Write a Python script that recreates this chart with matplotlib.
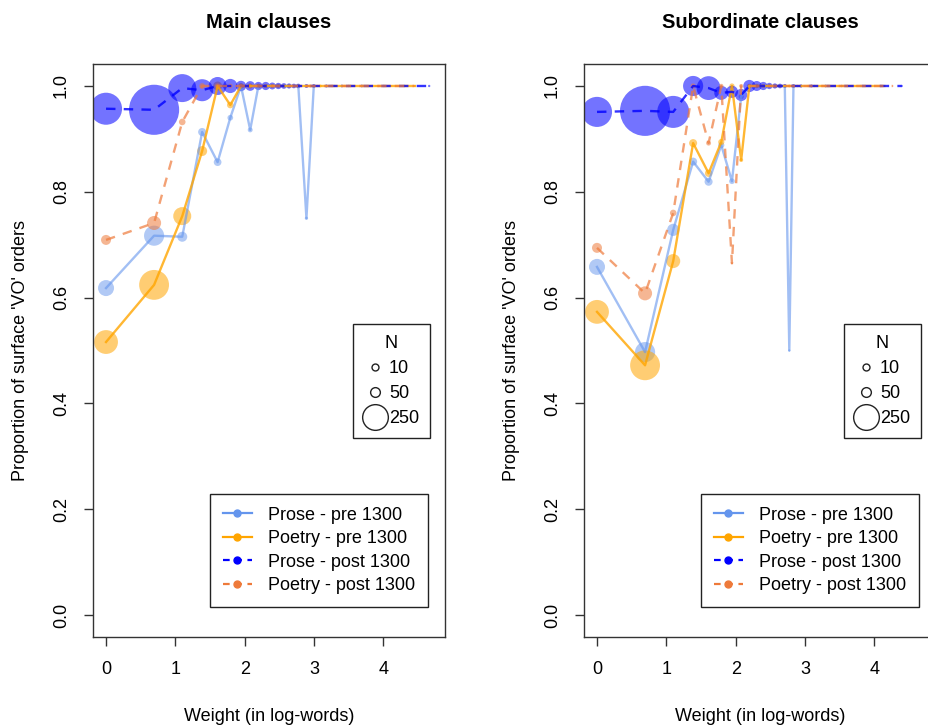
import numpy as np
import matplotlib
matplotlib.use("Agg")
import matplotlib.pyplot as plt
from matplotlib.lines import Line2D

plt.rcParams['font.family'] = ['Liberation Sans', 'DejaVu Sans']

# weight values are log(number of words)
# ---- Main clauses ----
main_prose_pre_x = [0, 0.693, 1.099, 1.386, 1.609, 1.792, 1.946, 2.079, 2.197, 2.303, 2.398, 2.485, 2.565, 2.639, 2.773, 2.890, 2.996]
main_prose_pre_y = [0.618, 0.717, 0.715, 0.913, 0.856, 0.940, 1.0, 0.917, 1.0, 1.0, 1.0, 1.0, 1.0, 1.0, 1.0, 0.75, 1.0]
main_prose_pre_n = [95, 150, 37, 24, 22, 12, 10, 9, 7, 6, 5, 5, 4, 4, 3, 4, 3]

main_poetry_pre_x = [0, 0.693, 1.099, 1.386, 1.609, 1.792, 1.946, 2.079, 2.197, 2.303, 2.398, 2.485, 2.639, 2.773, 2.944, 3.091, 3.296, 3.497, 3.714, 3.932, 4.174, 4.454]
main_poetry_pre_y = [0.516, 0.624, 0.754, 0.877, 1.0, 0.964, 1.0, 1.0, 1.0, 1.0, 1.0, 1.0, 1.0, 1.0, 1.0, 1.0, 1.0, 1.0, 1.0, 1.0, 1.0, 1.0]
main_poetry_pre_n = [210, 330, 120, 37, 30, 16, 12, 10, 8, 7, 6, 5, 4, 4, 3, 3, 2, 2, 2, 2, 1, 1]

main_prose_post_x = [0, 0.693, 1.099, 1.386, 1.609, 1.792, 1.946, 2.079, 2.197, 2.303, 2.398, 2.485, 2.565, 2.639, 2.708, 2.773, 2.890, 2.996, 3.178, 3.401, 3.689, 4.007, 4.304, 4.660]
main_prose_post_y = [0.957, 0.955, 0.996, 0.992, 1.0, 1.0, 1.0, 1.0, 1.0, 1.0, 1.0, 1.0, 1.0, 1.0, 1.0, 1.0, 1.0, 1.0, 1.0, 1.0, 1.0, 1.0, 1.0, 1.0]
main_prose_post_n = [380, 930, 290, 180, 120, 75, 40, 35, 25, 25, 18, 15, 12, 10, 8, 8, 6, 5, 4, 3, 3, 2, 2, 2]

main_poetry_post_x = [0, 0.693, 1.099, 1.386, 1.609, 1.792, 1.946, 2.079, 2.197, 2.303, 2.398, 2.565, 2.708, 2.890, 3.045, 3.258, 3.434, 3.664, 3.892, 4.111, 4.443]
main_poetry_post_y = [0.709, 0.741, 0.932, 1.0, 1.0, 1.0, 1.0, 1.0, 1.0, 1.0, 1.0, 1.0, 1.0, 1.0, 1.0, 1.0, 1.0, 1.0, 1.0, 1.0, 1.0]
main_poetry_post_n = [37, 73, 16, 12, 10, 8, 7, 6, 5, 4, 4, 3, 3, 3, 2, 2, 2, 1, 1, 1, 1]

# ---- Subordinate clauses ----
sub_prose_pre_x = [0, 0.693, 1.099, 1.386, 1.609, 1.792, 1.946, 2.079, 2.197, 2.303, 2.398, 2.485, 2.565, 2.639, 2.708, 2.773, 2.833]
sub_prose_pre_y = [0.658, 0.497, 0.728, 0.857, 0.819, 0.888, 0.820, 0.980, 1.0, 1.0, 1.0, 1.0, 1.0, 1.0, 1.0, 0.5, 1.0]
sub_prose_pre_n = [95, 150, 55, 24, 24, 14, 12, 10, 8, 7, 6, 5, 4, 4, 3, 2, 3]

sub_poetry_pre_x = [0, 0.693, 1.099, 1.386, 1.609, 1.792, 1.946, 2.079, 2.197, 2.303, 2.398, 2.485, 2.639, 2.773, 2.944, 3.135, 3.332, 3.584, 3.850, 4.143]
sub_poetry_pre_y = [0.573, 0.472, 0.669, 0.892, 0.835, 0.894, 1.0, 0.860, 1.0, 1.0, 1.0, 1.0, 1.0, 1.0, 1.0, 1.0, 1.0, 1.0, 1.0, 1.0]
sub_poetry_pre_n = [210, 330, 73, 24, 20, 14, 10, 6, 6, 5, 4, 4, 3, 3, 2, 2, 2, 1, 1, 1]

sub_prose_post_x = [0, 0.693, 1.099, 1.386, 1.609, 1.792, 1.946, 2.079, 2.197, 2.303, 2.398, 2.485, 2.565, 2.639, 2.708, 2.833, 2.944, 3.091, 3.296, 3.526, 3.807, 4.094, 4.394]
sub_prose_post_y = [0.951, 0.953, 0.951, 1.0, 0.996, 0.987, 0.989, 0.983, 1.0, 1.0, 1.0, 1.0, 1.0, 1.0, 1.0, 1.0, 1.0, 1.0, 1.0, 1.0, 1.0, 1.0, 1.0]
sub_prose_post_n = [335, 930, 380, 150, 210, 73, 55, 55, 55, 37, 25, 15, 10, 8, 6, 5, 4, 3, 3, 2, 2, 2, 2]

sub_poetry_post_x = [0, 0.693, 1.099, 1.386, 1.609, 1.792, 1.946, 2.079, 2.197, 2.303, 2.398, 2.565, 2.708, 2.890, 3.045, 3.258, 3.497, 3.738, 4.007, 4.263]
sub_poetry_post_y = [0.694, 0.608, 0.760, 1.0, 0.892, 1.0, 0.665, 1.0, 1.0, 1.0, 1.0, 1.0, 1.0, 1.0, 1.0, 1.0, 1.0, 1.0, 1.0, 1.0]
sub_poetry_post_n = [37, 73, 16, 10, 9, 7, 2, 6, 5, 4, 4, 3, 3, 2, 2, 2, 1, 1, 1, 1]

series_labels = ['Prose - pre 1300', 'Poetry - pre 1300', 'Prose - post 1300', 'Poetry - post 1300']
size_legend_n = [10, 50, 250]
size_legend_ms = [5, 7, 18.5]

COL_PROSE_PRE = '#6495ED'
COL_POETRY_PRE = '#FFA500'
COL_PROSE_POST = '#0000FF'
COL_POETRY_POST = '#EE7A3A'

styles = [
    (COL_PROSE_PRE, '-', 0.6, 0.5),
    (COL_POETRY_PRE, '-', 0.8, 0.55),
    (COL_PROSE_POST, '--', 0.8, 0.55),
    (COL_POETRY_POST, '--', 0.7, 0.55),
]


def draw_series(ax, x, y, n, style):
    color, ls, la, pa = style
    line, = ax.plot(x, y, color=color, lw=1.7, alpha=la, ls=ls)
    if ls == '--':
        line.set_dashes((4, 3.5))
    ax.scatter(x, y, s=np.array(n) * 1.4, color=color, alpha=pa, edgecolors='none')


def setup(ax, title):
    ax.set_xlim(-0.188, 4.888)
    ax.set_ylim(-0.0416, 1.0416)
    ax.set_xticks([0, 1, 2, 3, 4])
    ax.set_yticks([0, 0.2, 0.4, 0.6, 0.8, 1.0])
    ax.set_yticklabels(['0.0', '0.2', '0.4', '0.6', '0.8', '1.0'])
    ax.tick_params(axis='both', labelsize=13, length=6.5, width=1, color='#333333')
    ax.tick_params(axis='x', pad=11)
    ax.tick_params(axis='y', pad=10, labelrotation=90)
    for lab in ax.get_yticklabels():
        lab.set_va('center')
    for sp in ax.spines.values():
        sp.set_color('#333333')
        sp.set_linewidth(1.0)
    ax.set_title(title, fontsize=14.5, fontweight='bold', pad=26)
    ax.set_xlabel('Weight (in log-words)', fontsize=13, va='center')
    ax.xaxis.set_label_coords(0.5, -0.138)
    ax.set_ylabel("Proportion of surface 'VO' orders", fontsize=13, va='center')
    ax.yaxis.set_label_coords(-0.205, 0.5)

    handles = []
    for color, ls, la, pa in styles:
        h = Line2D([], [], color=color, lw=1.6, ls=ls, marker='o', ms=5)
        if ls == '--':
            h.set_dashes((3, 2.5))
        handles.append(h)
    leg = ax.legend(handles, series_labels, loc='lower right', bbox_to_anchor=(0.952, 0.052),
                    borderaxespad=0, fontsize=13, frameon=True, fancybox=False,
                    edgecolor='#222222', framealpha=1, handlelength=1.6, handletextpad=0.9,
                    labelspacing=0.36, borderpad=0.72)
    leg.get_frame().set_linewidth(1.0)
    ax.add_artist(leg)

    size_handles = [Line2D([], [], ls='none', marker='o', mfc='none', mec='#222222', mew=1.0, ms=m)
                    for m in size_legend_ms]
    leg2 = ax.legend(size_handles, [str(v) for v in size_legend_n], title='N', title_fontsize=13,
                     loc='upper right', bbox_to_anchor=(0.957, 0.546), borderaxespad=0,
                     fontsize=13, frameon=True, fancybox=False, edgecolor='#222222', framealpha=1,
                     handlelength=1.3, handletextpad=0.1, labelspacing=0.45, borderpad=0.6)
    leg2.get_frame().set_linewidth(1.0)


fig = plt.figure(figsize=(9.29, 7.27), dpi=100)
ax1 = fig.add_axes([0.1001, 0.1238, 0.3789, 0.7882])
ax2 = fig.add_axes([0.6286, 0.1238, 0.3789, 0.7882])

draw_series(ax1, main_prose_pre_x, main_prose_pre_y, main_prose_pre_n, styles[0])
draw_series(ax1, main_poetry_pre_x, main_poetry_pre_y, main_poetry_pre_n, styles[1])
draw_series(ax1, main_prose_post_x, main_prose_post_y, main_prose_post_n, styles[2])
draw_series(ax1, main_poetry_post_x, main_poetry_post_y, main_poetry_post_n, styles[3])

draw_series(ax2, sub_prose_pre_x, sub_prose_pre_y, sub_prose_pre_n, styles[0])
draw_series(ax2, sub_poetry_pre_x, sub_poetry_pre_y, sub_poetry_pre_n, styles[1])
draw_series(ax2, sub_prose_post_x, sub_prose_post_y, sub_prose_post_n, styles[2])
draw_series(ax2, sub_poetry_post_x, sub_poetry_post_y, sub_poetry_post_n, styles[3])

setup(ax1, 'Main clauses')
setup(ax2, 'Subordinate clauses')

fig.savefig('out.png', dpi=100)
